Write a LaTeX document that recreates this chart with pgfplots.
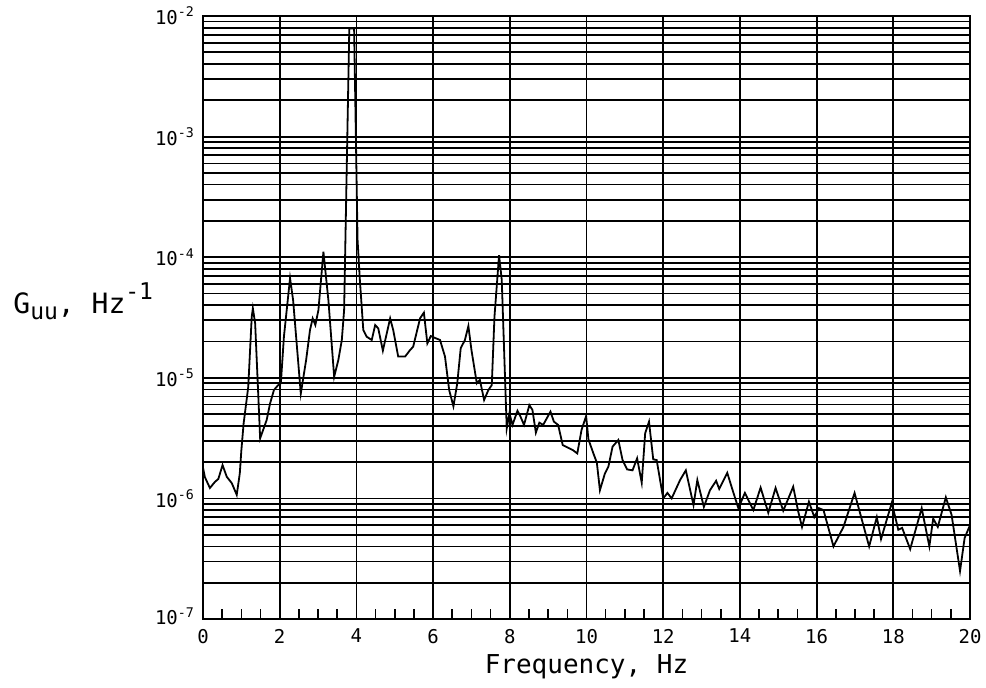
\documentclass[border=0pt]{standalone}
\usepackage{fontspec}
\setmainfont{DejaVu Sans Mono}
\usepackage{pgfplots}
\pgfplotsset{compat=1.18}

\begin{document}
\begin{tikzpicture}
\begin{semilogyaxis}[
  scale only axis,
  width=383.5pt, height=301.5pt,
  xmin=0, xmax=20,
  ymin=1e-7, ymax=1e-2,
  xtick={0,2,...,20},
  minor x tick num=3,
  ytick={1e-7,1e-6,1e-5,1e-4,1e-3,1e-2},
  yticklabels={\raisebox{3pt}{10\textsuperscript{-7}},10\textsuperscript{-6},10\textsuperscript{-5},10\textsuperscript{-4},10\textsuperscript{-3},10\textsuperscript{-2}},
  /pgf/number format/assume math mode=true,
  tick pos=left,
  tick align=inside,
  major tick length=5pt,
  minor tick length=5pt,
  every tick/.style={black, line width=0.8pt},
  ytick style={draw=none},
  minor y tick style={draw=none},
  xmajorgrids=true,
  ymajorgrids=true,
  yminorgrids=true,
  major grid style={black, line width=0.9pt},
  minor grid style={black, line width=0.85pt},
  axis line style={black, line width=1pt},
  tick label style={font=\fontsize{9.5}{11}\selectfont},
  xticklabel style={yshift=-1.5pt},
  yticklabel style={xshift=-0.5pt},
  xlabel={Frequency, Hz},
  xlabel style={font=\fontsize{13}{15}\selectfont, at={(axis description cs:0.5,0)}, anchor=base, yshift=-27pt},
]
\addplot[black, line width=0.9pt] coordinates {
(0.00,1.8e-6) (0.05,1.5e-6) (0.18,1.22e-6) (0.31,1.37e-6) (0.40,1.45e-6)
(0.51,1.89e-6) (0.62,1.51e-6) (0.75,1.34e-6) (0.88,1.07e-6) (0.96,1.62e-6)
(1.00,2.5e-6) (1.06,4.2e-6) (1.18,8.4e-6) (1.27,3.18e-5) (1.30,3.77e-5)
(1.36,2.83e-5) (1.49,3.15e-6) (1.66,4.47e-6) (1.75,6.14e-6) (1.85,7.93e-6)
(1.96,8.7e-6) (2.03,9.0e-6) (2.11,2.19e-5) (2.16,3.11e-5) (2.27,6.7e-5)
(2.35,4.4e-5) (2.55,7.4e-6) (2.69,1.41e-5) (2.79,2.49e-5) (2.86,3.11e-5)
(2.93,2.74e-5) (3.01,3.65e-5) (3.14,1.11e-4) (3.27,4.4e-5) (3.42,1.02e-5)
(3.53,1.41e-5) (3.62,2.06e-5) (3.68,3.65e-5) (3.815,7.9e-3) (3.94,7.9e-3)
(3.97,2.1e-3) (4.03,1.4e-4) (4.09,6.5e-5) (4.18,2.49e-5) (4.27,2.19e-5)
(4.40,2.06e-5) (4.49,2.74e-5) (4.57,2.57e-5) (4.69,1.68e-5) (4.88,3.11e-5)
(4.96,2.49e-5) (5.09,1.5e-5) (5.27,1.5e-5) (5.40,1.7e-5) (5.48,1.81e-5)
(5.66,3.11e-5) (5.76,3.47e-5) (5.85,1.93e-5) (5.94,2.22e-5) (6.05,2.14e-5)
(6.18,2.06e-5) (6.31,1.5e-5) (6.42,7.9e-6) (6.53,5.8e-6) (6.63,9.0e-6)
(6.72,1.76e-5) (6.83,2.06e-5) (6.92,2.69e-5) (7.00,1.7e-5) (7.14,9.0e-6)
(7.22,9.6e-6) (7.33,6.55e-6) (7.44,7.9e-6) (7.53,8.7e-6) (7.60,3.2e-5)
(7.72,1.04e-4) (7.79,6.5e-5) (7.92,3.81e-6) (7.99,5.08e-6) (8.07,4.07e-6)
(8.20,5.33e-6) (8.28,4.76e-6) (8.37,4.07e-6) (8.51,5.94e-6) (8.59,5.42e-6)
(8.68,3.51e-6) (8.77,4.25e-6) (8.87,4.07e-6) (9.06,5.24e-6) (9.15,4.33e-6)
(9.26,4.07e-6) (9.38,2.77e-6) (9.50,2.65e-6) (9.64,2.52e-6) (9.76,2.36e-6)
(9.87,3.69e-6) (9.99,4.82e-6) (10.05,3.09e-6) (10.18,2.36e-6) (10.27,1.98e-6)
(10.35,1.17e-6) (10.48,1.61e-6) (10.57,1.83e-6) (10.68,2.69e-6) (10.83,3.05e-6)
(10.94,2.08e-6) (11.06,1.74e-6) (11.20,1.71e-6) (11.32,2.15e-6) (11.44,1.35e-6)
(11.53,3.47e-6) (11.63,4.33e-6) (11.74,2.11e-6) (11.83,2.08e-6) (12.00,1.0e-6)
(12.11,1.11e-6) (12.22,1.0e-6) (12.44,1.42e-6) (12.59,1.71e-6) (12.79,8.8e-7)
(12.89,1.42e-6) (13.06,8.5e-7) (13.22,1.17e-6) (13.38,1.4e-6) (13.46,1.2e-6)
(13.67,1.63e-6) (13.81,1.17e-6) (13.96,8.3e-7) (14.13,1.11e-6) (14.35,8.0e-7)
(14.54,1.23e-6) (14.74,7.6e-7) (14.93,1.22e-6) (15.13,7.9e-7) (15.39,1.25e-6)
(15.52,7.8e-7) (15.62,5.8e-7) (15.80,9.4e-7) (15.94,7.0e-7) (16.06,8.3e-7)
(16.18,8.0e-7) (16.44,4.0e-7) (16.70,5.8e-7) (16.99,1.11e-6) (17.37,4.0e-7)
(17.57,7.0e-7) (17.68,4.6e-7) (17.96,9.2e-7) (18.13,5.5e-7) (18.23,5.7e-7)
(18.44,3.8e-7) (18.74,8.3e-7) (18.94,4.0e-7) (19.04,6.8e-7) (19.16,5.8e-7)
(19.37,1.02e-6) (19.52,7.3e-7) (19.74,2.5e-7) (19.86,4.7e-7) (20.00,6.0e-7)
};
\coordinate (sw) at (rel axis cs:0,0);
\coordinate (ne) at (rel axis cs:1,1);
\end{semilogyaxis}
% vertical-axis title, set horizontally to the left of the axis
\node[anchor=base west, font=\fontsize{14}{16}\selectfont, inner sep=0pt]
  at ([xshift=-95pt, yshift=153pt]sw)
  {G\raisebox{-0.45ex}{\fontsize{11.5}{12}\selectfont uu}, Hz\raisebox{0.9ex}{\fontsize{11.5}{12}\selectfont -1}};
\pgfresetboundingbox
\path (sw) ++(-101.5pt,-34pt) coordinate (a);
\path (ne) ++(8pt,8pt) coordinate (b);
\path (a) rectangle (b);
\end{tikzpicture}
\end{document}
